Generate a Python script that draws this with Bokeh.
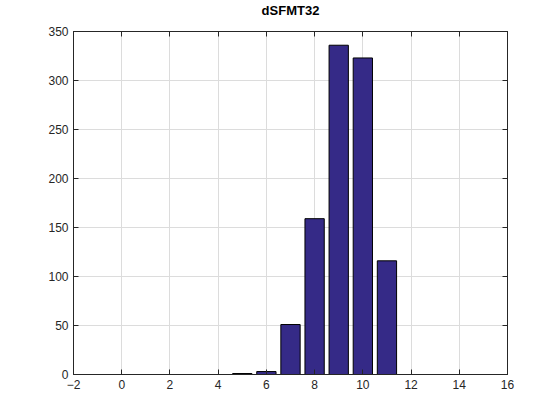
from bokeh.plotting import figure
from bokeh.models import LinearAxis, FixedTicker, Range1d, ColumnDataSource, CustomLabelingPolicy
from bokeh.embed import file_html
from bokeh.resources import INLINE

title = "dSFMT32"
bins = [5, 6, 7, 8, 9, 10, 11]
counts = [1, 3, 51, 159, 336, 323, 116]
x_ticks = [-2, 0, 2, 4, 6, 8, 10, 12, 14, 16]
y_ticks = [0, 50, 100, 150, 200, 250, 300, 350]

p = figure(width=552, height=412, output_backend="svg", toolbar_location=None,
           x_range=Range1d(-2, 16), y_range=Range1d(0, 350),
           min_border_left=73, min_border_right=45, min_border_top=19, min_border_bottom=38,
           title=title)
p.title.text_font = "Liberation Sans"
p.title.text_font_size = "13px"
p.title.text_font_style = "bold"
p.title.align = "center"
p.title.text_color = "#000000"
p.title.standoff = 0

src = ColumnDataSource(dict(x=bins, top=counts))
p.vbar(x="x", top="top", width=0.8, bottom=0, source=src,
       fill_color="#352a87", line_color="#000000", line_width=1)

p.outline_line_color = "#262626"
p.outline_line_width = 1
p.outline_line_alpha = 1

for ax in [p.xaxis[0], p.yaxis[0]]:
    ax.major_label_text_font = "Liberation Sans"
    ax.major_label_text_font_size = "12px"
    ax.major_label_text_color = "#262626"
    ax.axis_line_color = "#262626"
    ax.major_tick_line_color = "#262626"
    ax.major_tick_in = 5
    ax.major_tick_out = 0
    ax.minor_tick_line_color = None
p.xaxis[0].ticker = FixedTicker(ticks=x_ticks)
p.yaxis[0].ticker = FixedTicker(ticks=y_ticks)

no_labels = CustomLabelingPolicy(code="return false")
no_labels2 = CustomLabelingPolicy(code="return false")
top_ax = LinearAxis(ticker=FixedTicker(ticks=x_ticks), major_label_policy=no_labels,
                    major_label_standoff=3,
                    major_tick_in=5, major_tick_out=0, minor_tick_line_color=None,
                    axis_line_color="#262626", major_tick_line_color="#262626")
right_ax = LinearAxis(ticker=FixedTicker(ticks=y_ticks), major_label_policy=no_labels2,
                      major_tick_in=5, major_tick_out=0, minor_tick_line_color=None,
                      axis_line_color="#262626", major_tick_line_color="#262626")
p.add_layout(top_ax, "above")
p.add_layout(right_ax, "right")

p.xgrid.ticker = FixedTicker(ticks=x_ticks)
p.ygrid.ticker = FixedTicker(ticks=y_ticks)
p.grid.grid_line_color = "#dcdcdc"
p.grid.grid_line_alpha = 1
p.background_fill_color = "white"
p.border_fill_color = "white"

open("out.html", "w").write(file_html(p, INLINE))
